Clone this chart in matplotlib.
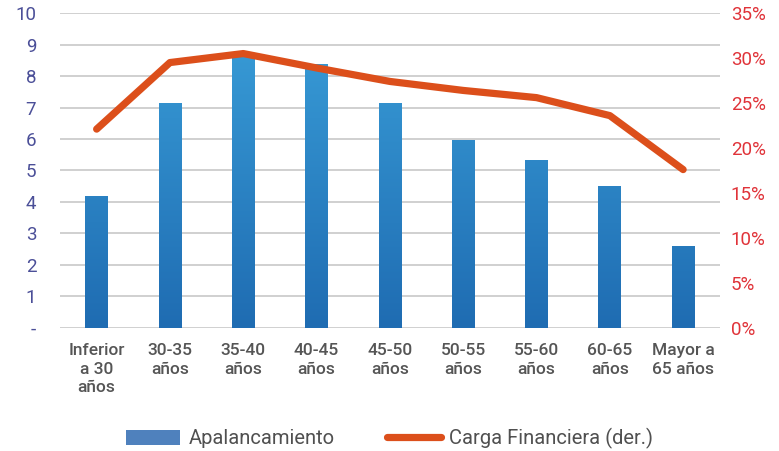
import numpy as np
import matplotlib
matplotlib.use("Agg")
import matplotlib.pyplot as plt
from matplotlib.colors import LinearSegmentedColormap
from matplotlib.patches import Patch
from matplotlib.lines import Line2D

# data
categories = ["Inferior\na 30\naños", "30-35\naños", "35-40\naños", "40-45\naños",
              "45-50\naños", "50-55\naños", "55-60\naños", "60-65\naños", "Mayor a\n65 años"]
apalancamiento = [4.2, 7.13, 8.7, 8.38, 7.13, 5.96, 5.32, 4.5, 2.61]
carga_financiera = [0.221, 0.295, 0.305, 0.289, 0.274, 0.264, 0.256, 0.236, 0.176]
left_ticks = [0, 1, 2, 3, 4, 5, 6, 7, 8, 9, 10]
left_labels = ["-", "1", "2", "3", "4", "5", "6", "7", "8", "9", "10"]
right_ticks = [0, 0.05, 0.10, 0.15, 0.20, 0.25, 0.30, 0.35]
right_labels = ["0%", "5%", "10%", "15%", "20%", "25%", "30%", "35%"]

plt.rcParams['font.family'] = ['Roboto', 'DejaVu Sans']

fig = plt.figure(figsize=(7.79, 4.51), dpi=100)
ax = fig.add_axes([0.077, 0.273, 0.847, 0.698])
ax2 = ax.twinx()

x = np.arange(len(categories))
bars = ax.bar(x, apalancamiento, width=0.31, color="#2a85c8", zorder=2)

# vertical gradient inside each bar (lighter on top)
cmap = LinearSegmentedColormap.from_list("bl", ["#1f6cb2", "#3a9fd9"])
grad = np.linspace(0, 1, 256).reshape(-1, 1)
for b in bars:
    x0, w = b.get_x(), b.get_width()
    im = ax.imshow(grad, extent=[x0, x0 + w, 0, 10], origin="lower", cmap=cmap,
                   aspect="auto", zorder=2.5)
    im.set_clip_path(b)

ax2.plot(x, carga_financiera, color="#dc4f1b", lw=5.2, solid_capstyle="round",
         solid_joinstyle="round", zorder=3)

ax.set_xlim(-0.5, len(categories) - 0.5)
ax.set_ylim(0, 10)
ax2.set_ylim(0, 0.35)

ax.set_yticks(left_ticks)
ax.set_yticklabels(left_labels, color="#4b4f98", fontsize=13.5)
ax2.set_yticks(right_ticks)
ax2.set_yticklabels(right_labels, color="#e03339", fontsize=13.5)
ax.set_xticks(x)
ax.set_xticklabels(categories, color="#555555", fontsize=12.5, fontweight="medium",
                   linespacing=1.3)

ax.grid(axis="y", color="#d0d0d0", lw=1.4, zorder=0)
ax.set_axisbelow(True)
for a in (ax, ax2):
    for s in a.spines.values():
        s.set_visible(False)
    a.tick_params(length=0)
ax.tick_params(axis="y", pad=17)
ax.tick_params(axis="x", pad=11)
ax2.tick_params(axis="y", pad=8)

handles = [Patch(facecolor="#4f81bd", label="Apalancamiento"),
           Line2D([0], [0], color="#dc4f1b", lw=5.2, solid_capstyle="round",
                  label="Carga Financiera (der.)")]
fig.legend(handles=handles, loc="center", bbox_to_anchor=(0.5, 0.028), ncol=2,
           frameon=False, fontsize=14.5, labelcolor="#505050",
           handlelength=2.7, handleheight=0.8, columnspacing=2.6, handletextpad=0.4)

fig.savefig("out.png", dpi=100)
